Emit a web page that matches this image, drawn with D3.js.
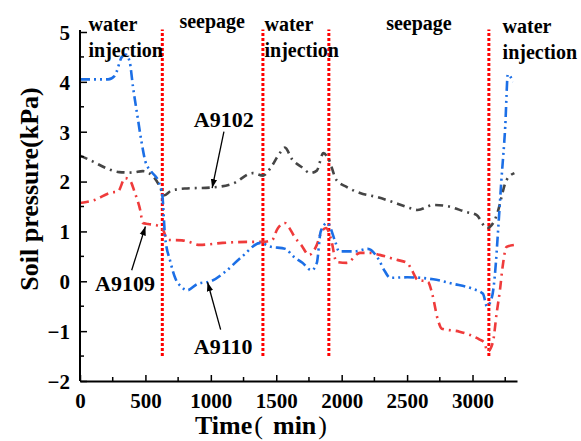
<!DOCTYPE html>
<html>
<head>
<meta charset="utf-8">
<script src="https://cdn.jsdelivr.net/npm/d3@7"></script>
<style>
  html, body { margin: 0; padding: 0; background: #fff; }
  svg { display: block; }
  text { font-family: "Liberation Serif", "Times New Roman", serif; font-weight: bold; fill: #000; }
</style>
</head>
<body>
<svg id="chart" width="581" height="441"></svg>
<script>
// ---- data ----
const xTicks = [0, 500, 1000, 1500, 2000, 2500, 3000];
const yTicks = [-2, -1, 0, 1, 2, 3, 4, 5];

const tA9110 = [0,150,215,265,320,350,380,405,440,470,500,545,600,630,650,690,730,770,820,900,1000,1100,1240,1380,1450,1570,1630,1700,1770,1810,1840,1890,1950,1980,2100,2200,2280,2330,2370,2500,2700,2850,3000,3080,3110,3150,3170,3200,3220,3250,3270,3310];
const vA9110 = [4.05,4.05,4.05,4.12,4.5,4.55,4.4,3.9,3.3,2.8,2.4,2.2,2.0,1.7,0.9,0.4,0.05,-0.1,-0.18,-0.05,0,0.17,0.5,0.77,0.7,0.65,0.5,0.37,0.22,0.37,1.0,1.17,0.8,0.6,0.6,0.65,0.45,0.2,0.07,0.08,0.04,-0.05,-0.15,-0.25,-0.5,-0.3,0.1,1.2,2.0,3.1,4.15,4.0];

const tA9102 = [0,100,200,300,400,480,560,610,640,700,800,1000,1170,1320,1400,1450,1530,1566,1620,1700,1760,1810,1860,1900,1960,2040,2140,2270,2390,2520,2580,2700,2800,2950,3030,3110,3165,3190,3260,3320];
const vA9102 = [2.52,2.4,2.27,2.19,2.18,2.21,2.1,1.9,1.72,1.82,1.86,1.88,1.96,2.17,2.12,2.25,2.58,2.68,2.45,2.28,2.17,2.22,2.57,2.45,2.03,1.89,1.77,1.69,1.59,1.47,1.43,1.53,1.51,1.39,1.33,1.07,1.2,1.37,2.03,2.17];

const tA9109 = [0,100,240,290,345,380,420,460,480,520,590,635,670,780,820,915,1090,1300,1400,1470,1505,1565,1600,1640,1690,1750,1810,1845,1880,1920,1960,2040,2140,2215,2290,2420,2500,2535,2580,2660,2690,2735,2765,2900,3055,3090,3115,3155,3185,3210,3230,3260,3320];
const vA9109 = [1.57,1.62,1.78,1.8,2.07,2.03,1.77,1.43,1.17,1.15,1.12,1.03,0.83,0.82,0.8,0.73,0.77,0.79,0.79,0.83,1.03,1.17,1.07,0.89,0.73,0.53,0.73,0.99,1.07,0.83,0.39,0.37,0.57,0.57,0.53,0.43,0.37,0.23,0.03,-0.01,-0.23,-0.77,-0.95,-1.01,-1.17,-1.23,-1.41,-1.23,-0.63,-0.17,0.29,0.69,0.73];

const phaseBounds = [629, 1398, 1902, 3125];
const phaseLabels = [
  {lines: ["water", "injection"], t: 65, v: 5.03},
  {lines: ["seepage"], t: 760, v: 5.08},
  {lines: ["water", "injection"], t: 1410, v: 5.03},
  {lines: ["seepage"], t: 2340, v: 5.05},
  {lines: ["water", "injection"], t: 3230, v: 4.98}
];

const seriesNames = ["A9102", "A9109", "A9110"];

// ---- chart ----
const svg = d3.select("#chart");
const x = d3.scaleLinear().domain([0, 3340]).range([80, 517]);
const y = d3.scaleLinear().domain([-2, 5]).range([381, 32]);

const series = [
  {name: "A9102", t: tA9102, v: vA9102, color: "#454545", dash: "8,5,2,5"},
  {name: "A9109", t: tA9109, v: vA9109, color: "#EF3B3B", dash: "9,5,2,5"},
  {name: "A9110", t: tA9110, v: vA9110, color: "#1C6FE6", dash: "10,4,2,4,2,4"}
];

const line = d3.line().x(d => x(d[0])).y(d => y(d[1])).curve(d3.curveMonotoneX);

// phase separators
svg.append("g").selectAll("line").data(phaseBounds).join("line")
  .attr("x1", d => x(d)).attr("x2", d => x(d))
  .attr("y1", y(-1.5)).attr("y2", y(5.05))
  .attr("stroke", "#ff0000").attr("stroke-width", 3)
  .attr("stroke-dasharray", "3,2");

// series
svg.append("g").selectAll("path").data(series).join("path")
  .attr("d", s => line(s.t.map((t, i) => [t, s.v[i]])))
  .attr("fill", "none")
  .attr("stroke", s => s.color)
  .attr("stroke-width", 2.6)
  .attr("stroke-dasharray", s => s.dash);

// axes
const xAxis = d3.axisBottom(x).tickValues(xTicks).tickSizeInner(-6).tickSizeOuter(0).tickPadding(12).tickFormat(d3.format("d"));
const gx = svg.append("g").attr("transform", `translate(0,${y(-2)})`).call(xAxis);
gx.selectAll(".tick line").attr("stroke", "#000").attr("stroke-width", 1.5);
gx.append("g").selectAll("line").data(d3.range(250, 3340, 500)).join("line")
  .attr("x1", d => x(d)).attr("x2", d => x(d)).attr("y1", 0).attr("y2", -4)
  .attr("stroke", "#000").attr("stroke-width", 1.5);

const yAxis = d3.axisLeft(y).tickValues(yTicks).tickSizeInner(-7).tickSizeOuter(0).tickPadding(10)
  .tickFormat(d => d < 0 ? "\u2212" + Math.abs(d) : String(d));
const gy = svg.append("g").attr("transform", `translate(${x(0)},0)`).call(yAxis);
gy.selectAll(".tick line").attr("stroke", "#000").attr("stroke-width", 1.5);
gy.append("g").selectAll("line").data(d3.range(-1.5, 5, 1)).join("line")
  .attr("y1", d => y(d)).attr("y2", d => y(d)).attr("x1", 0).attr("x2", 4)
  .attr("stroke", "#000").attr("stroke-width", 1.5);

[gx, gy].forEach(g => {
  g.select(".domain").attr("stroke", "#000").attr("stroke-width", 2);
  g.selectAll("text").style("font-family", '"Liberation Serif", "Times New Roman", serif')
    .style("font-weight", "bold").style("font-size", "21px").attr("fill", "#000");
});
gy.select(".domain").attr("d", `M0,${y(-2)}V${y(5) - 2}`);
gy.selectAll(".tick text").attr("dy", "0.35em");

// axis titles
const xt = svg.append("text").attr("x", 261).attr("y", 434).attr("text-anchor", "middle")
  .style("font-size", "26px");
xt.append("tspan").text("Time");
xt.append("tspan").attr("dx", 2).style("font-weight", "normal").text("(");
xt.append("tspan").attr("dx", 10).text("min");
xt.append("tspan").attr("dx", 2).style("font-weight", "normal").text(")");

svg.append("text").attr("transform", `translate(38,${189}) rotate(-90)`)
  .attr("text-anchor", "middle").style("font-size", "26px")
  .text("Soil pressure(kPa)");

// phase labels
phaseLabels.forEach(p => {
  const t = svg.append("text").attr("x", x(p.t)).attr("y", y(p.v)).style("font-size", "20px");
  p.lines.forEach((l, i) => t.append("tspan").attr("x", x(p.t)).attr("dy", i === 0 ? 0 : 26).text(l));
});

// annotations
const defs = svg.append("defs");
defs.append("marker").attr("id", "arr").attr("viewBox", "0 0 10 10").attr("refX", 10).attr("refY", 5)
  .attr("markerWidth", 9).attr("markerHeight", 9).attr("markerUnits", "userSpaceOnUse").attr("orient", "auto")
  .append("path").attr("d", "M0,1.5L10,5L0,8.5Z").attr("fill", "#000");

const annots = [
  {name: seriesNames[0], tx: 870, ty: 3.1, from: [1100, 3.0], to: [1010, 1.87]},
  {name: seriesNames[1], tx: 115, ty: -0.2, from: [395, 0.22], to: [500, 1.1]},
  {name: seriesNames[2], tx: 870, ty: -1.45, from: [1075, -0.97], to: [975, -0.02]}
];
annots.forEach(a => {
  svg.append("text").attr("x", x(a.tx)).attr("y", y(a.ty)).style("font-size", "22px").text(a.name);
  svg.append("line").attr("x1", x(a.from[0])).attr("y1", y(a.from[1]))
    .attr("x2", x(a.to[0])).attr("y2", y(a.to[1]))
    .attr("stroke", "#000").attr("stroke-width", 1.3).attr("marker-end", "url(#arr)");
});
</script>
</body>
</html>
